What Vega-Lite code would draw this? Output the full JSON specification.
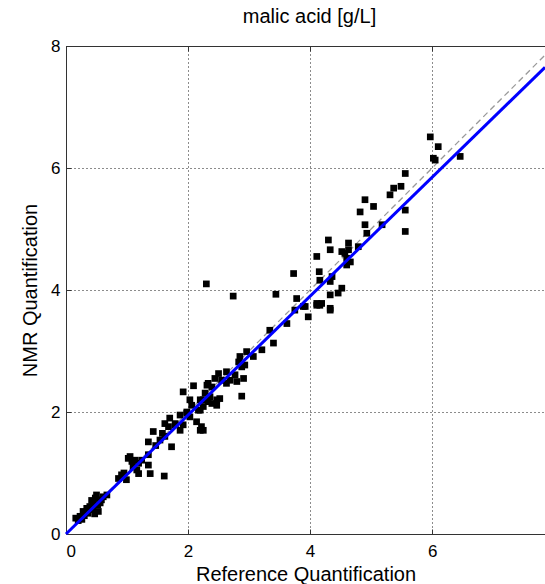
{
  "$schema": "https://vega.github.io/schema/vega-lite/v6.json",
  "width": 479,
  "height": 488,
  "autosize": {"type": "none"},
  "padding": {"left": 66, "top": 46, "right": 0, "bottom": 50},
  "background": "white",
  "config": {
    "view": {"stroke": null},
    "font": "Liberation Sans",
    "axis": {
      "domainColor": "#333333",
      "tickColor": "#333333",
      "labelColor": "#000000",
      "titleColor": "#000000",
      "labelFontSize": 17,
      "titleFontSize": 20,
      "titleFontWeight": "normal",
      "gridColor": "#000000",
      "gridDash": [1, 3],
      "gridOpacity": 0.9
    }
  },
  "title": {"text": "malic acid [g/L]", "fontSize": 20, "fontWeight": "normal", "color": "#000000", "dx": 4, "offset": 10},
  "datasets": {
    "identity": [{"x": 0, "y": 0}, {"x": 7.85, "y": 7.85}],
    "fit": [{"x": 0, "y": 0}, {"x": 7.85, "y": 7.65}],
    "pts": [
      {"x":0.16,"y":0.26},{"x":0.23,"y":0.29},{"x":0.28,"y":0.37},{"x":0.34,"y":0.42},{"x":0.39,"y":0.45},{"x":0.45,"y":0.50},{"x":0.48,"y":0.59},{"x":0.50,"y":0.64},{"x":0.53,"y":0.37},{"x":0.56,"y":0.51},{"x":0.61,"y":0.61},{"x":0.67,"y":0.64},{"x":0.36,"y":0.34},{"x":0.44,"y":0.40},{"x":0.20,"y":0.22},{"x":0.30,"y":0.30},{"x":0.42,"y":0.55},{"x":0.52,"y":0.48},{"x":0.47,"y":0.33},{"x":0.58,"y":0.56},{"x":0.26,"y":0.24},
      {"x":0.86,"y":0.91},{"x":0.91,"y":0.97},{"x":0.99,"y":0.89},{"x":1.02,"y":1.24},{"x":1.08,"y":1.19},{"x":1.13,"y":1.21},{"x":1.19,"y":1.16},{"x":1.24,"y":1.21},{"x":1.19,"y":0.99},{"x":1.35,"y":1.13},{"x":1.38,"y":0.99},{"x":1.61,"y":0.95},{"x":1.35,"y":1.30},{"x":1.43,"y":1.68},{"x":1.35,"y":1.51},{"x":1.54,"y":1.54},{"x":1.62,"y":1.60},{"x":1.68,"y":1.76},{"x":1.73,"y":1.43},{"x":1.79,"y":1.81},{"x":1.87,"y":1.70},{"x":1.92,"y":1.79},{"x":1.98,"y":1.98},{"x":2.03,"y":1.92},{"x":2.14,"y":1.84},{"x":2.20,"y":1.70},{"x":2.25,"y":1.70},{"x":1.92,"y":2.33},{"x":2.09,"y":2.43},{"x":2.17,"y":2.03},{"x":2.25,"y":2.09},{"x":2.31,"y":2.44},{"x":2.39,"y":2.14},{"x":2.47,"y":2.11},{"x":2.52,"y":2.22},{"x":2.63,"y":2.47},{"x":2.80,"y":2.50},{"x":2.88,"y":2.26},{"x":1.05,"y":1.27},{"x":1.16,"y":1.05},{"x":0.95,"y":1.00},{"x":1.10,"y":1.10},{"x":1.47,"y":1.45},{"x":1.58,"y":1.65},
      {"x":1.62,"y":1.81},{"x":1.70,"y":1.90},{"x":1.98,"y":2.00},{"x":2.20,"y":2.20},{"x":2.33,"y":2.47},{"x":2.39,"y":2.41},{"x":2.36,"y":2.25},{"x":2.47,"y":2.20},{"x":2.50,"y":2.63},{"x":2.55,"y":2.52},{"x":2.63,"y":2.66},{"x":2.69,"y":2.52},{"x":2.77,"y":2.61},{"x":2.83,"y":2.82},{"x":2.88,"y":2.74},{"x":2.85,"y":2.91},{"x":2.96,"y":2.99},{"x":2.93,"y":2.77},{"x":2.91,"y":2.55},{"x":3.07,"y":2.91},{"x":3.21,"y":3.02},{"x":3.34,"y":3.34},{"x":3.40,"y":3.13},{"x":3.62,"y":3.45},{"x":3.75,"y":3.67},{"x":3.89,"y":3.73},{"x":3.97,"y":3.56},{"x":4.11,"y":3.78},{"x":4.19,"y":3.78},{"x":4.33,"y":3.70},{"x":2.44,"y":2.55},{"x":2.25,"y":2.20},{"x":2.06,"y":2.11},{"x":1.87,"y":1.95},{"x":1.79,"y":1.79},{"x":2.03,"y":2.20},{"x":2.20,"y":2.03},{"x":2.28,"y":2.31},{"x":2.22,"y":1.76},{"x":2.33,"y":2.17},
      {"x":3.73,"y":4.27},{"x":3.78,"y":3.86},{"x":3.92,"y":3.73},{"x":4.11,"y":4.55},{"x":4.11,"y":3.75},{"x":4.16,"y":3.75},{"x":4.15,"y":4.30},{"x":4.16,"y":4.16},{"x":4.30,"y":4.82},{"x":4.33,"y":4.66},{"x":4.33,"y":4.14},{"x":4.33,"y":3.92},{"x":4.36,"y":4.22},{"x":4.33,"y":3.67},{"x":4.46,"y":3.95},{"x":4.52,"y":4.03},{"x":4.52,"y":4.63},{"x":4.57,"y":4.60},{"x":4.63,"y":4.77},{"x":4.63,"y":4.66},{"x":4.60,"y":4.52},{"x":4.60,"y":4.41},{"x":4.66,"y":4.46},{"x":4.79,"y":4.71},{"x":4.82,"y":5.28},{"x":4.90,"y":5.48},{"x":5.04,"y":5.37},{"x":4.90,"y":5.07},{"x":4.93,"y":4.93},{"x":5.18,"y":5.07},{"x":5.56,"y":5.31},{"x":5.56,"y":4.96},
      {"x":5.97,"y":6.51},{"x":6.10,"y":6.35},{"x":6.02,"y":6.16},{"x":6.05,"y":6.13},{"x":6.46,"y":6.19},{"x":5.56,"y":5.91},{"x":5.37,"y":5.67},{"x":5.31,"y":5.56},{"x":5.49,"y":5.70},
      {"x":2.30,"y":4.10},{"x":2.74,"y":3.90},{"x":3.44,"y":3.93}
    ]
  },
  "resolve": {"scale": {"x": "shared", "y": "shared"}, "axis": {"x": "independent", "y": "shared"}},
  "layer": [
    {
      "data": {"name": "identity"},
      "mark": {"type": "line", "color": "#999999", "strokeDash": [6, 4], "strokeWidth": 1.3},
      "encoding": {
        "x": {"field": "x", "type": "quantitative", "scale": {"domain": [0, 7.85], "nice": false, "zero": false},
              "axis": {"orient": "top", "labels": false, "title": null, "grid": false, "values": [0, 2, 4, 6], "tickSize": -5}},
        "y": {"field": "y", "type": "quantitative", "scale": {"domain": [0, 8], "nice": false}}
      }
    },
    {
      "data": {"name": "pts"},
      "mark": {"type": "square", "color": "#000000", "size": 45, "opacity": 1},
      "encoding": {
        "x": {"field": "x", "type": "quantitative",
              "axis": {"orient": "bottom", "title": "Reference Quantification", "values": [0, 2, 4, 6], "format": "d", "grid": true, "tickSize": -5, "labelPadding": 14, "titlePadding": 5}},
        "y": {"field": "y", "type": "quantitative",
              "axis": {"orient": "left", "title": "NMR Quantification", "values": [0, 2, 4, 6, 8], "format": "d", "grid": true, "tickSize": -5, "labelPadding": 11, "titlePadding": 10}}
      }
    },
    {
      "data": {"name": "fit"},
      "mark": {"type": "line", "color": "#0000ff", "strokeWidth": 3},
      "encoding": {
        "x": {"field": "x", "type": "quantitative", "axis": null},
        "y": {"field": "y", "type": "quantitative"}
      }
    }
  ]
}
